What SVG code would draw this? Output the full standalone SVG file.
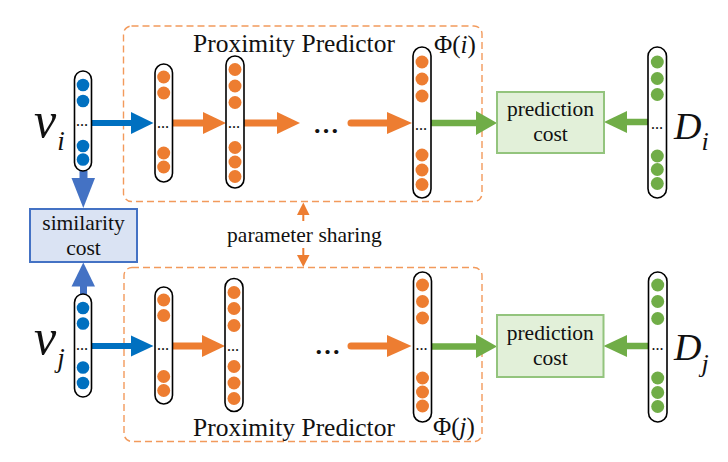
<svg xmlns="http://www.w3.org/2000/svg" width="728" height="462" viewBox="0 0 728 462">
<style>
  text { font-family: "Liberation Serif", "Times New Roman", serif; fill: #111; }
  .lbl { font-size: 21.5px; text-anchor: middle; }
  .title { font-size: 25.5px; text-anchor: middle; }
  .it { font-style: italic; }
  .col { fill: #fff; stroke: #000; stroke-width: 1.6; }
  .b { fill: #0070C0; }
  .o { fill: #ED7D31; }
  .g { fill: #70AD47; }
  .dots { font-size: 12px; font-weight: bold; text-anchor: middle; }
  .bigdots { font-size: 26px; font-weight: bold; }
  .dash { fill: none; stroke: #F29A5C; stroke-width: 1.4; stroke-dasharray: 7 4; }
  .simbox { fill: #DAE3F3; stroke: #4472C4; stroke-width: 2; }
  .predbox { fill: #E2F0D9; stroke: #93C47D; stroke-width: 2; }
  .bs { stroke: #0070C0; stroke-width: 6; }
  .os { stroke: #ED7D31; stroke-width: 7; stroke-linecap: round; }
  .gs { stroke: #70AD47; stroke-width: 6.5; stroke-linecap: round; }
  .ps { stroke: #ED7D31; stroke-width: 2; }
  .bh { fill: #0070C0; }
  .oh { fill: #ED7D31; }
  .gh { fill: #70AD47; }
  .sh { fill: #4472C4; }
</style>

<!-- Proximity predictor boxes -->
<g id="predictor_i">
  <rect class="dash" x="123.5" y="26" width="358.5" height="175.5" rx="8"/>
  <text class="title" x="294" y="51.7">Proximity Predictor</text>
  <text x="434" y="53" font-size="25">Φ(<tspan class="it">i</tspan>)</text>
</g>
<g id="predictor_j">
  <rect class="dash" x="124" y="267.5" width="358" height="174" rx="8"/>
  <text class="title" x="294" y="435.5">Proximity Predictor</text>
  <text x="433" y="435" font-size="25">Φ(<tspan class="it">j</tspan>)</text>
</g>

<!-- Connectors -->
<g id="connectors">
  <!-- top row -->
  <line class="bs" x1="91" y1="123" x2="132" y2="123"/>
  <polygon class="bh" points="131,112 153.5,123 131,134"/>
  <line class="os" x1="173" y1="123" x2="204" y2="123"/>
  <polygon class="oh" points="203,112 226,123 203,134"/>
  <line class="os" x1="244" y1="123" x2="278" y2="123"/>
  <polygon class="oh" points="277,112 300,123 277,134"/>
  <line class="os" x1="351" y1="123" x2="388" y2="123"/>
  <polygon class="oh" points="387,112 412,123 387,134"/>
  <line class="gs" x1="431" y1="123" x2="477" y2="123"/>
  <polygon class="gh" points="476,111 497,123 476,135"/>
  <line class="gs" x1="626" y1="122" x2="647" y2="122"/>
  <polygon class="gh" points="627,111 604,122 627,133"/>
  <!-- bottom row -->
  <line class="bs" x1="91" y1="346" x2="132" y2="346"/>
  <polygon class="bh" points="131,335.5 153.5,346 131,356.5"/>
  <line class="os" x1="172" y1="346" x2="203" y2="346"/>
  <polygon class="oh" points="202,335 225,346 202,357"/>
  <line class="os" x1="351" y1="346" x2="388" y2="346"/>
  <polygon class="oh" points="387,335 411.5,346 387,357"/>
  <line class="gs" x1="431" y1="346.5" x2="477" y2="346.5"/>
  <polygon class="gh" points="476,334.5 497,346.5 476,358"/>
  <line class="gs" x1="626" y1="346" x2="648" y2="346"/>
  <polygon class="gh" points="627,335 603.5,346 627,357"/>
  <!-- to similarity cost -->
  <rect class="sh" x="79.5" y="171" width="8" height="8"/>
  <polygon class="sh" points="71.5,178 95,178 83.3,208"/>
  <rect class="sh" x="80" y="285" width="7" height="9"/>
  <polygon class="sh" points="71.5,286.5 95,286.5 83.3,262.5"/>
  <!-- parameter sharing -->
  <line class="ps" x1="303.3" y1="214" x2="303.3" y2="221"/>
  <polygon class="oh" points="297,215 309.5,215 303.3,202.5"/>
  <line class="ps" x1="303.3" y1="248" x2="303.3" y2="256"/>
  <polygon class="oh" points="297,255 309.5,255 303.3,267"/>
</g>

<!-- ellipses between layers -->
<g id="ellipsis_i"><text class="bigdots" x="313" y="133">…</text></g>
<g id="ellipsis_j"><text class="bigdots" x="314.5" y="354">…</text></g>

<!-- Top row nodes -->
<g id="v_i">
  <rect class="col" x="74.5" y="71" width="17" height="100" rx="8.5"/>
  <circle class="b" cx="83" cy="85" r="6.3"/>
  <circle class="b" cx="83" cy="101" r="6.3"/>
  <circle class="b" cx="83" cy="146" r="6.3"/>
  <circle class="b" cx="83" cy="159.5" r="6.3"/>
  <text class="dots" x="82" y="126">…</text>
  <text class="it" x="34" y="137" font-size="50">v<tspan dx="1" dy="13" font-size="27">i</tspan></text>
</g>
<g id="layer1_i">
  <rect class="col" x="155" y="64" width="17.5" height="118" rx="8.75"/>
  <circle class="o" cx="163.7" cy="77" r="6.5"/>
  <circle class="o" cx="163.7" cy="93" r="6.5"/>
  <circle class="o" cx="163.7" cy="153" r="6.5"/>
  <circle class="o" cx="163.7" cy="167" r="6.5"/>
  <text class="dots" x="163" y="128">…</text>
</g>
<g id="layer2_i">
  <rect class="col" x="226" y="56" width="18" height="132" rx="9"/>
  <circle class="o" cx="235" cy="69.5" r="6.5"/>
  <circle class="o" cx="235" cy="86" r="6.5"/>
  <circle class="o" cx="235" cy="102.5" r="6.5"/>
  <circle class="o" cx="235" cy="147.5" r="6.5"/>
  <circle class="o" cx="235" cy="162" r="6.5"/>
  <circle class="o" cx="235" cy="176.5" r="6.5"/>
  <text class="dots" x="234" y="128">…</text>
</g>
<g id="phi_i">
  <rect class="col" x="413" y="47" width="18" height="151" rx="9"/>
  <circle class="o" cx="422" cy="62" r="6.5"/>
  <circle class="o" cx="422" cy="79" r="6.5"/>
  <circle class="o" cx="422" cy="96" r="6.5"/>
  <circle class="o" cx="422" cy="155" r="6.5"/>
  <circle class="o" cx="422" cy="170" r="6.5"/>
  <circle class="o" cx="422" cy="184.5" r="6.5"/>
  <text class="dots" x="421" y="130">…</text>
</g>
<g id="pred_cost_i">
  <rect class="predbox" x="497" y="92" width="107" height="61"/>
  <text class="lbl" x="550.5" y="115.5">prediction</text>
  <text class="lbl" x="550.5" y="140.5">cost</text>
</g>
<g id="D_i">
  <rect class="col" x="648" y="47" width="18.5" height="151" rx="9.25"/>
  <circle class="g" cx="657.3" cy="62" r="6.5"/>
  <circle class="g" cx="657.3" cy="78.5" r="6.5"/>
  <circle class="g" cx="657.3" cy="94.5" r="6.5"/>
  <circle class="g" cx="657.3" cy="156" r="6.5"/>
  <circle class="g" cx="657.3" cy="169.5" r="6.5"/>
  <circle class="g" cx="657.3" cy="183.5" r="6.5"/>
  <text class="dots" x="657" y="129">…</text>
  <text class="it" x="674" y="139" font-size="38">D<tspan dx="0" dy="11" font-size="26">i</tspan></text>
</g>

<!-- similarity cost -->
<g id="similarity_cost">
  <rect class="simbox" x="30" y="209" width="107" height="53"/>
  <text class="lbl" x="83.5" y="229.5" font-size="21">similarity</text>
  <text class="lbl" x="83.5" y="255" font-size="21">cost</text>
</g>

<g id="parameter_sharing">
  <text class="lbl" x="304.4" y="241.7">parameter sharing</text>
</g>

<!-- Bottom row nodes -->
<g id="v_j">
  <rect class="col" x="74.5" y="294" width="17" height="103" rx="8.5"/>
  <circle class="b" cx="83" cy="308" r="6.3"/>
  <circle class="b" cx="83" cy="323.5" r="6.3"/>
  <circle class="b" cx="83" cy="367.5" r="6.3"/>
  <circle class="b" cx="83" cy="383" r="6.3"/>
  <text class="dots" x="82" y="350">…</text>
  <text class="it" x="34" y="354" font-size="50">v<tspan dx="1" dy="13" font-size="27">j</tspan></text>
</g>
<g id="layer1_j">
  <rect class="col" x="155" y="287" width="17.5" height="117" rx="8.75"/>
  <circle class="o" cx="163.7" cy="300" r="6.5"/>
  <circle class="o" cx="163.7" cy="315.5" r="6.5"/>
  <circle class="o" cx="163.7" cy="376.5" r="6.5"/>
  <circle class="o" cx="163.7" cy="390.5" r="6.5"/>
  <text class="dots" x="163" y="350">…</text>
</g>
<g id="layer2_j">
  <rect class="col" x="225" y="278.5" width="18" height="133" rx="9"/>
  <circle class="o" cx="234" cy="292.5" r="6.5"/>
  <circle class="o" cx="234" cy="308.5" r="6.5"/>
  <circle class="o" cx="234" cy="325.5" r="6.5"/>
  <circle class="o" cx="234" cy="366.5" r="6.5"/>
  <circle class="o" cx="234" cy="383" r="6.5"/>
  <circle class="o" cx="234" cy="398.5" r="6.5"/>
  <text class="dots" x="233" y="351">…</text>
</g>
<g id="phi_j">
  <rect class="col" x="413.5" y="272" width="18" height="150" rx="9"/>
  <circle class="o" cx="422.5" cy="285" r="6.5"/>
  <circle class="o" cx="422.5" cy="301.5" r="6.5"/>
  <circle class="o" cx="422.5" cy="318" r="6.5"/>
  <circle class="o" cx="422.5" cy="378" r="6.5"/>
  <circle class="o" cx="422.5" cy="392" r="6.5"/>
  <circle class="o" cx="422.5" cy="406" r="6.5"/>
  <text class="dots" x="421.5" y="350">…</text>
</g>
<g id="pred_cost_j">
  <rect class="predbox" x="497" y="315" width="106.5" height="62"/>
  <text class="lbl" x="550.3" y="340">prediction</text>
  <text class="lbl" x="550.3" y="365">cost</text>
</g>
<g id="D_j">
  <rect class="col" x="648.5" y="272" width="18.5" height="150" rx="9.25"/>
  <circle class="g" cx="657.7" cy="285" r="6.5"/>
  <circle class="g" cx="657.7" cy="301.5" r="6.5"/>
  <circle class="g" cx="657.7" cy="318.5" r="6.5"/>
  <circle class="g" cx="657.7" cy="378" r="6.5"/>
  <circle class="g" cx="657.7" cy="392.5" r="6.5"/>
  <circle class="g" cx="657.7" cy="406.5" r="6.5"/>
  <text class="dots" x="657.5" y="350">…</text>
  <text class="it" x="674" y="360" font-size="38">D<tspan dx="0" dy="12" font-size="26">j</tspan></text>
</g>
</svg>
